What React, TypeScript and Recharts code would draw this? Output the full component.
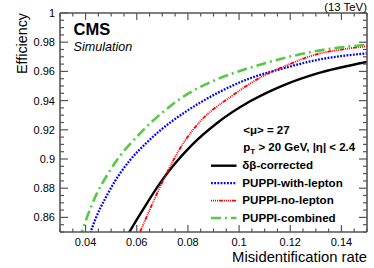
import React from 'react';
import { LineChart, Line, XAxis, YAxis, Legend } from 'recharts';

const FONT = '"Liberation Sans", Arial, Helvetica, sans-serif';

// δβ-corrected
const dbX = [0.0556, 0.0571, 0.0639, 0.0691, 0.0743, 0.0815, 0.0913, 0.1043, 0.1173, 0.1303, 0.15];
const dbY = [0.8455, 0.85, 0.8695, 0.8835, 0.8955, 0.9095, 0.9245, 0.9395, 0.9505, 0.9585, 0.9665];
// PUPPI-with-lepton
const wlX = [0.0411, 0.042, 0.0495, 0.0574, 0.0639, 0.0691, 0.0782, 0.0913, 0.1043, 0.1173, 0.1303, 0.15];
const wlY = [0.845, 0.85, 0.8788, 0.8993, 0.9112, 0.9195, 0.9313, 0.945, 0.9553, 0.9621, 0.9678, 0.9724];
// PUPPI-no-lepton
const nlX = [0.0601, 0.0613, 0.0665, 0.0704, 0.0782, 0.0847, 0.0968, 0.1101, 0.1173, 0.1303, 0.1434, 0.15];
const nlY = [0.845, 0.85, 0.8708, 0.8856, 0.9108, 0.9255, 0.9427, 0.9575, 0.9632, 0.9717, 0.9758, 0.9772];
// PUPPI-combined
const cbX = [0.0375, 0.0385, 0.0424, 0.0508, 0.0613, 0.0691, 0.0782, 0.0913, 0.1043, 0.1173, 0.1303, 0.15];
const cbY = [0.845, 0.85, 0.8685, 0.8955, 0.9176, 0.9305, 0.9427, 0.9545, 0.9625, 0.969, 0.974, 0.9783];

const xMajorTicks = [0.04, 0.06, 0.08, 0.1, 0.12, 0.14];
const xAllTicks = [0.03, 0.035, 0.04, 0.045, 0.05, 0.055, 0.06, 0.065, 0.07, 0.075, 0.08, 0.085, 0.09, 0.095, 0.1, 0.105, 0.11, 0.115, 0.12, 0.125, 0.13, 0.135, 0.14, 0.145, 0.15];
const yMajorTicks = [0.86, 0.88, 0.9, 0.92, 0.94, 0.96, 0.98, 1];
const yAllTicks = [0.85, 0.855, 0.86, 0.865, 0.87, 0.875, 0.88, 0.885, 0.89, 0.895, 0.9, 0.905, 0.91, 0.915, 0.92, 0.925, 0.93, 0.935, 0.94, 0.945, 0.95, 0.955, 0.96, 0.965, 0.97, 0.975, 0.98, 0.985, 0.99, 0.995, 1];

const toPoints = (xs: number[], ys: number[]) => xs.map((x, i) => ({ x, y: ys[i] }));

const series = [
  { name: 'δβ-corrected', xs: dbX, ys: dbY, color: '#000000', width: 2.4, dash: undefined as string | undefined },
  { name: 'PUPPI-with-lepton', xs: wlX, ys: wlY, color: '#0000ff', width: 2.3, dash: '1.8 1.4' },
  { name: 'PUPPI-no-lepton', xs: nlX, ys: nlY, color: '#ff0000', width: 1.9, dash: '1 1 1 1 1 1 1 1 4 1' },
  { name: 'PUPPI-combined', xs: cbX, ys: cbY, color: '#55c845', width: 2.6, dash: '10 4 2 4' },
];

const AX = '#555';
const isMajor = (v: number, majors: number[]) => majors.some((m) => Math.abs(m - v) < 1e-9);
const fmt = (v: number) => String(Math.round(v * 1000) / 1000);

const BottomTick = (p: any) => {
  const v = p.payload.value;
  const maj = isMajor(v, xMajorTicks);
  return (
    <g>
      <line x1={p.x} x2={p.x} y1={p.y} y2={p.y - (maj ? 7 : 3.5)} stroke={AX} strokeWidth={1.2} />
      {maj && (
        <text x={p.x} y={p.y + 13.7} textAnchor="middle" fontSize={11} fontFamily={FONT} fill="#000">
          {fmt(v)}
        </text>
      )}
    </g>
  );
};
const TopTick = (p: any) => {
  const v = p.payload.value;
  const maj = isMajor(v, xMajorTicks);
  return <line x1={p.x} x2={p.x} y1={p.y} y2={p.y + (maj ? 7 : 3.5)} stroke={AX} strokeWidth={1.2} />;
};
const LeftTick = (p: any) => {
  const v = p.payload.value;
  const maj = isMajor(v, yMajorTicks);
  return (
    <g>
      <line x1={p.x} x2={p.x + (maj ? 8 : 4)} y1={p.y} y2={p.y} stroke={AX} strokeWidth={1.2} />
      {maj && (
        <text x={p.x - 5} y={p.y + 3.9} textAnchor="end" fontSize={11} fontFamily={FONT} fill="#000">
          {fmt(v)}
        </text>
      )}
    </g>
  );
};
const RightTick = (p: any) => {
  const v = p.payload.value;
  const maj = isMajor(v, yMajorTicks);
  return <line x1={p.x} x2={p.x - (maj ? 8 : 4)} y1={p.y} y2={p.y} stroke={AX} strokeWidth={1.2} />;
};

const XTitle = (props: any) => {
  const vb = props.viewBox;
  return (
    <text x={vb.x + vb.width} y={vb.y + 29.7} textAnchor="end" fontSize={14.8} fontFamily={FONT} fill="#000">
      Misidentification rate
    </text>
  );
};
const YTitle = (props: any) => {
  const vb = props.viewBox;
  const x = vb.x + 27;
  const y = vb.y;
  return (
    <text x={x} y={y} transform={`rotate(-90 ${x} ${y})`} textAnchor="end" fontSize={14.3} fontFamily={FONT} fill="#000">
      Efficiency
    </text>
  );
};

const LegendBox = () => (
  <svg width={374} height={268} style={{ position: 'absolute', left: 0, top: 0, overflow: 'visible' }}>
    {series.map((s, i) => {
      const ly = 165.7 + i * 17.45;
      return (
        <g key={s.name}>
          <line x1={211} x2={236.5} y1={ly} y2={ly} stroke={s.color} strokeWidth={s.width} strokeDasharray={s.dash} />
          <text x={242.3} y={ly + 3.5} fontSize={11.6} fontWeight="bold" fontFamily={FONT} fill="#000">
            {s.name}
          </text>
        </g>
      );
    })}
  </svg>
);

export default function App() {
  return (
    <div style={{ position: 'absolute', left: 0, top: 0, width: 374, height: 268, background: '#fff' }}>
      <LineChart width={374} height={268} margin={{ top: 12, right: 6, bottom: 0, left: 0 }}>
        <XAxis
          xAxisId="main"
          type="number"
          dataKey="x"
          orientation="bottom"
          domain={[0.03, 0.15]}
          allowDataOverflow
          ticks={xAllTicks}
          interval={0}
          height={36}
          tickSize={0}
          tickMargin={0}
          tickLine={false}
          axisLine={{ stroke: AX, strokeWidth: 1.6 }}
          tick={BottomTick}
          label={{ content: XTitle }}
        />
        <XAxis
          xAxisId="top"
          type="number"
          dataKey="x"
          orientation="top"
          domain={[0.03, 0.15]}
          allowDataOverflow
          ticks={xAllTicks}
          interval={0}
          height={1}
          tickSize={0}
          tickMargin={0}
          tickLine={false}
          axisLine={{ stroke: AX, strokeWidth: 1.6 }}
          tick={TopTick}
        />
        <YAxis
          yAxisId="main"
          type="number"
          dataKey="y"
          orientation="left"
          domain={[0.85, 1]}
          allowDataOverflow
          ticks={yAllTicks}
          interval={0}
          width={60}
          tickSize={0}
          tickMargin={0}
          tickLine={false}
          axisLine={{ stroke: AX, strokeWidth: 1.6 }}
          tick={LeftTick}
          label={{ content: YTitle }}
        />
        <YAxis
          yAxisId="right"
          type="number"
          dataKey="y"
          orientation="right"
          domain={[0.85, 1]}
          allowDataOverflow
          ticks={yAllTicks}
          interval={0}
          width={1}
          tickSize={0}
          tickMargin={0}
          tickLine={false}
          axisLine={{ stroke: AX, strokeWidth: 1.6 }}
          tick={RightTick}
        />
        {series.map((s, i) => (
          <Line
            key={s.name}
            name={s.name}
            data={toPoints(s.xs, s.ys)}
            dataKey="y"
            xAxisId={i === 0 ? 'top' : 'main'}
            yAxisId={i === 0 ? 'right' : 'main'}
            type="monotone"
            stroke={s.color}
            strokeWidth={s.width}
            strokeDasharray={s.dash}
            dot={false}
            activeDot={false}
            isAnimationActive={false}
          />
        ))}
        <Legend
          layout="vertical"
          align="center"
          verticalAlign="middle"
          content={LegendBox}
          wrapperStyle={{ position: 'absolute', left: 0, top: 0, width: 374, height: 268, pointerEvents: 'none' }}
        />
      </LineChart>
      <svg width={374} height={268} style={{ position: 'absolute', left: 0, top: 0, pointerEvents: 'none' }}>
        <text x={367} y={10.5} textAnchor="end" fontSize={11.4} fontFamily={FONT} fill="#000">(13 TeV)</text>
        <text x={73.5} y={35} fontSize={16.5} fontWeight="bold" fontFamily={FONT} fill="#000">CMS</text>
        <text x={73.5} y={50.5} fontSize={12.6} fontStyle="italic" fontFamily={FONT} fill="#000">Simulation</text>
        <text x={243.3} y={134} fontSize={11.5} fontWeight="bold" fontFamily={FONT} fill="#000">{'<μ> = 27'}</text>
        <text x={243.3} y={151.3} fontSize={11.5} fontWeight="bold" fontFamily={FONT} fill="#000">
          p<tspan fontSize={8} dy={3}>T</tspan>
          <tspan dy={-3}>{' > 20 GeV, |η| < 2.4'}</tspan>
        </text>
      </svg>
    </div>
  );
}
